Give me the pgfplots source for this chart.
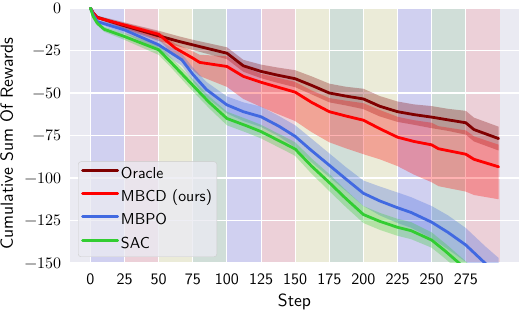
\documentclass[border=0pt]{standalone}
\usepackage{fontspec}
\setmainfont{lmroman10-regular}[Extension=.otf]
\setsansfont{lmsans10-regular}[Extension=.otf]
\usepackage{pgfplots}
\pgfplotsset{compat=1.18}
\usepackage{pgfplotstable}
\usepgfplotslibrary{fillbetween}

\definecolor{bg}{HTML}{EAEAF2}
\definecolor{bandB}{HTML}{D0D0F0}
\definecolor{bandR}{HTML}{ECD0D8}
\definecolor{bandY}{HTML}{EBEBD8}
\definecolor{bandG}{HTML}{D0DED8}
\definecolor{cOr}{HTML}{800000}
\definecolor{cMB}{HTML}{FF0000}
\definecolor{cMP}{HTML}{4169E1}
\definecolor{cSA}{HTML}{32CD32}

\pgfplotstableread{
s m lo hi
0 0 0 0
2 -3 -3.5 -2.5
5 -5.5 -6.5 -4.5
25 -10.5 -12.5 -8.5
50 -16.4 -19.4 -13.4
65 -19.7 -22.7 -16.7
75 -21.7 -24.7 -18.7
100 -26.6 -30.1 -23.1
112 -34 -37.5 -30.5
125 -37.3 -41.3 -33.3
137 -39.5 -44 -35
150 -41.6 -46.6 -36.6
162 -45.5 -50.8 -40.2
175 -50 -55.5 -44.5
187 -51.8 -57.3 -46.3
200 -53.5 -59.5 -47.5
212 -57.8 -63.8 -51.8
225 -61 -67 -55
237 -62.7 -68.7 -56.7
250 -64.2 -70.7 -57.7
262 -65.8 -72.3 -59.3
275 -67.5 -74.5 -60.5
281 -71.5 -78.5 -64.5
299 -76.8 -83.8 -69.8
}\TOr

\pgfplotstableread{
s m lo hi
0 0 0 0
2 -3 -3.2 -2.9
5 -5.7 -6 -5.4
25 -10 -12 -9
50 -15.5 -18.5 -14
62 -23.5 -28.5 -21
75 -29.5 -36.5 -25.5
80 -32 -40 -27.5
100 -34.4 -46.4 -28.4
112 -40.2 -53.5 -34.7
125 -43.7 -58.2 -38.7
137 -46.5 -62.3 -41
150 -49.5 -66.5 -43.5
162 -55.5 -73 -48.5
175 -61 -79 -53
187 -63.5 -82.5 -54.5
200 -66 -86 -56
212 -71 -89 -60
225 -76 -93 -64
237 -78.5 -98 -66
250 -80.5 -102.5 -67.5
255 -82.8 -104.8 -69.5
275 -86 -108 -72
281 -89 -110 -75.5
299 -93.4 -112.5 -80.4
}\TMB

\pgfplotstableread{
s m lo hi
0 0 0 0
2 -4 -4.5 -3.5
5 -8 -9 -7
25 -12.9 -14.9 -10.9
50 -21.7 -24.7 -18.7
67 -30.5 -34 -27
75 -39 -43 -35
85 -48 -52.5 -43.5
100 -57 -62 -52
112 -61 -66.5 -55.5
125 -64 -70 -58
138 -69.5 -75.5 -63.5
150 -75.5 -82 -69
161 -83.2 -90.2 -76.2
175 -92.5 -99.5 -85.5
187 -100.5 -107.5 -93.5
200 -109 -116.5 -101.5
212 -113.5 -122 -105
225 -117.5 -126.5 -108.5
235 -120.3 -129.3 -111.3
250 -126 -135.5 -116.5
262 -132 -142 -122
275 -139.4 -149.4 -129.4
289 -150 -160 -140
299 -157 -167 -147
}\TMP

\pgfplotstableread{
s m lo hi
0 0 0 0
2 -5 -5.5 -4.5
5 -9 -10 -8
10 -12.5 -14 -11
25 -16.8 -18.8 -14.8
50 -24.6 -27.6 -21.6
59 -32 -35 -29
75 -45.5 -49 -42
87 -55.5 -59 -52
100 -65 -69 -61
115 -69.5 -73.5 -65.5
125 -72.7 -76.7 -68.7
146 -81.3 -85.3 -77.3
150 -83 -87 -79
162 -93 -97.5 -88.5
175 -102.7 -107.7 -97.7
187 -112 -117 -107
200 -121.5 -126.5 -116.5
212 -125.5 -130.5 -120.5
225 -129 -134 -124
235 -131 -136 -126
250 -136.5 -141 -132
260 -143 -147.5 -138.5
270 -150 -154.5 -145.5
280 -157 -161.5 -152.5
}\TSA

\newcommand\band[3]{\addplot[on layer=axis background, fill=#3, draw=none, forget plot] coordinates {(#1,0) (#2,0) (#2,-150) (#1,-150)} -- cycle;}

\begin{document}
\begin{tikzpicture}
\begin{axis}[
  set layers,
  at={(0,0)}, anchor=south west,
  scale only axis, width=449bp, height=255bp,
  xmin=-15, xmax=314, ymin=-150, ymax=0,
  xtick={0,25,...,275}, ytick={-150,-125,...,0},
  yticklabels={−150,−125,−100,−75,−50,−25,0},
  grid=major, grid style={white, line width=1.1bp},
  axis background/.style={fill=bg},
  axis line style={draw=none},
  major tick length=0pt,
  xticklabel style={font=\fontsize{16bp}{19bp}\selectfont\sffamily, /pgf/number format/assume math mode=true, yshift=-7.5bp},
  yticklabel style={font=\fontsize{16bp}{19bp}\selectfont\rmfamily, xshift=-5.4bp},
  xlabel={Step}, ylabel={Cumulative Sum Of Rewards},
  label style={font=\fontsize{17.6bp}{21bp}\selectfont\sffamily},
  xlabel style={at={(axis description cs:0.5,-0.16863)}, anchor=base},
  ylabel style={at={(axis description cs:-0.1274,0.467)}, anchor=base},
  legend cell align=left,
  legend style={at={(0,0)}, anchor=south west, xshift=8bp, yshift=6bp,
    fill=bg, fill opacity=0.8, draw opacity=1, text opacity=1, draw=black!20,
    rounded corners=3bp, font=\fontsize{15.8bp}{19bp}\selectfont\sffamily,
    inner xsep=3bp, inner ysep=1bp,
    nodes={inner ysep=3.65bp, inner xsep=2bp, text height=12bp, text depth=4bp},
    /tikz/every even column/.append style={column sep=11bp}},
  legend image code/.code={\draw[#1] (0bp,4bp) -- (35bp,4bp);},
  every axis plot/.append style={line join=round, line cap=round},
]
\band{0}{25}{bandB}
\band{25}{50}{bandR}
\band{50}{75}{bandY}
\band{75}{100}{bandG}
\band{100}{125}{bandB}
\band{125}{150}{bandR}
\band{150}{175}{bandY}
\band{175}{200}{bandG}
\band{200}{225}{bandY}
\band{225}{250}{bandB}
\band{250}{275}{bandG}
\band{275}{300}{bandR}

\addplot[name path=oH, draw=none, forget plot] table[x=s,y=hi]{\TOr};
\addplot[name path=oL, draw=none, forget plot] table[x=s,y=lo]{\TOr};
\addplot[fill=cOr, fill opacity=0.3, draw=none, forget plot] fill between[of=oH and oL];
\addplot[name path=bH, draw=none, forget plot] table[x=s,y=hi]{\TMB};
\addplot[name path=bL, draw=none, forget plot] table[x=s,y=lo]{\TMB};
\addplot[fill=cMB, fill opacity=0.3, draw=none, forget plot] fill between[of=bH and bL];
\addplot[name path=pH, draw=none, forget plot] table[x=s,y=hi]{\TMP};
\addplot[name path=pL, draw=none, forget plot] table[x=s,y=lo]{\TMP};
\addplot[fill=cMP, fill opacity=0.3, draw=none, forget plot] fill between[of=pH and pL];
\addplot[name path=sH, draw=none, forget plot] table[x=s,y=hi]{\TSA};
\addplot[name path=sL, draw=none, forget plot] table[x=s,y=lo]{\TSA};
\addplot[fill=cSA, fill opacity=0.3, draw=none, forget plot] fill between[of=sH and sL];

\addplot[cOr, line width=2.8bp] table[x=s,y=m]{\TOr};
\addlegendentry{Oracle}
\addplot[cMB, line width=2.8bp] table[x=s,y=m]{\TMB};
\addlegendentry{MBCD (ours)}
\addplot[cMP, line width=2.8bp] table[x=s,y=m]{\TMP};
\addlegendentry{MBPO}
\addplot[cSA, line width=2.8bp] table[x=s,y=m]{\TSA};
\addlegendentry{SAC}
\end{axis}
\pgfresetboundingbox
\path[use as bounding box] (-70bp,-49bp) rectangle (450bp,263bp);
\end{tikzpicture}
\end{document}
